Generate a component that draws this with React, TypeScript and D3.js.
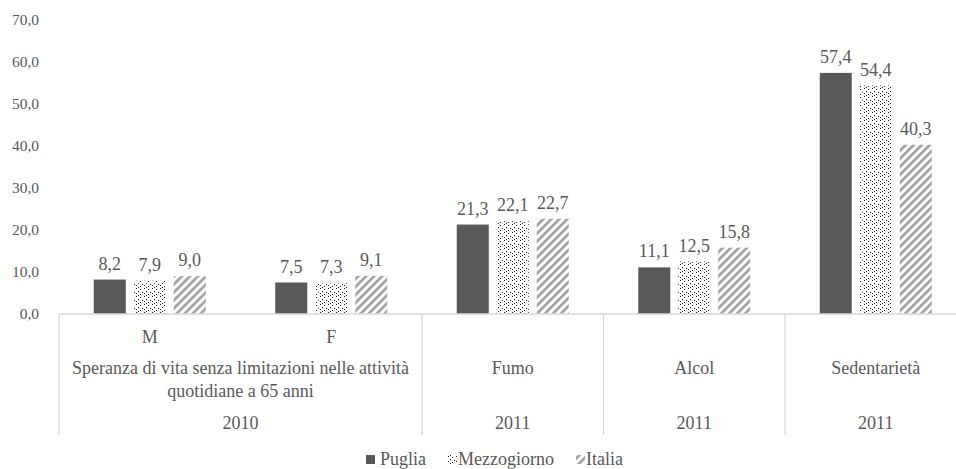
import React from "react";
import * as d3 from "d3";

const categories = ["M", "F", "Fumo", "Alcol", "Sedentarietà"];
const groupLabels = [
  { label: ["Speranza di vita senza limitazioni nelle attività", "quotidiane a 65 anni"], from: 0, to: 1 },
  { label: ["Fumo"], from: 2, to: 2 },
  { label: ["Alcol"], from: 3, to: 3 },
  { label: ["Sedentarietà"], from: 4, to: 4 },
];
const yearLabels = [
  { label: "2010", from: 0, to: 1 },
  { label: "2011", from: 2, to: 2 },
  { label: "2011", from: 3, to: 3 },
  { label: "2011", from: 4, to: 4 },
];
const seriesNames = ["Puglia", "Mezzogiorno", "Italia"];
const puglia = [8.2, 7.5, 21.3, 11.1, 57.4];
const mezzogiorno = [7.9, 7.3, 22.1, 12.5, 54.4];
const italia = [9.0, 9.1, 22.7, 15.8, 40.3];
const seriesValues = [puglia, mezzogiorno, italia];
const yTicks = [0, 10, 20, 30, 40, 50, 60, 70];

const W = 956;
const H = 469;
const FONT = "Liberation Serif, Times New Roman, Times, DejaVu Serif, serif";
const TEXT = "#595959";
const fills = ["#595959", "url(#dots)", "url(#stripes)"];

const fmt = (v: number) => v.toFixed(1).replace(".", ",");

export default function App() {
  const x0 = 59;
  const step = 181.5;
  const x = d3
    .scaleBand<number>()
    .domain(categories.map((_, i) => i))
    .range([x0, x0 + step * categories.length])
    .padding(0);
  const xs = d3
    .scaleBand<number>()
    .domain(seriesNames.map((_, i) => i))
    .range([0, x.bandwidth()])
    .paddingInner(0.2)
    .paddingOuter(0.869);
  const y = d3.scaleLinear().domain([0, 70]).range([314, 20]);
  const base = y(0);
  const divBottom = 435;

  const boundaries = [0, 2, 3, 4, 5];

  const legendItems = [
    { name: seriesNames[0], mx: 366, tx: 380 },
    { name: seriesNames[1], mx: 448, tx: 458 },
    { name: seriesNames[2], mx: 576, tx: 586 },
  ];

  return (
    <svg
      width={W}
      height={H}
      style={{ position: "absolute", left: 0, top: 0, background: "#fff", fontFamily: FONT }}
    >
      <defs>
        <pattern id="dots" patternUnits="userSpaceOnUse" width="8" height="8">
          <rect width="8" height="8" fill="#fff" />
          <rect x="0" y="0" width="1" height="1" fill="#222" />
          <rect x="4" y="1" width="1" height="1" fill="#222" />
          <rect x="2" y="3" width="1" height="1" fill="#222" />
          <rect x="6" y="4" width="1" height="1" fill="#222" />
          <rect x="0" y="5" width="1" height="1" fill="#222" />
          <rect x="4" y="6" width="1" height="1" fill="#222" />
          <rect x="2" y="7" width="1" height="1" fill="#222" />
        </pattern>
        <pattern
          id="stripes"
          patternUnits="userSpaceOnUse"
          width="5.66"
          height="10"
          patternTransform="rotate(45)"
        >
          <rect width="5.66" height="10" fill="#fff" />
          <rect x="0" y="0" width="2.9" height="10" fill="#a6a6a6" />
        </pattern>
      </defs>
      <rect width={W} height={H} fill="#fff" />

      {yTicks.map((t) => (
        <text
          key={t}
          x={39}
          y={y(t)}
          dy="0.35em"
          textAnchor="end"
          fontSize={15.5}
          fill={TEXT}
        >
          {fmt(t)}
        </text>
      ))}

      {seriesValues.map((vals, s) =>
        vals.map((v, i) => {
          const bx = (x(i) as number) + (xs(s) as number);
          return (
            <g key={`${s}-${i}`}>
              <rect
                x={bx}
                y={y(v)}
                width={xs.bandwidth()}
                height={base - y(v)}
                fill={fills[s]}
              />
              <text
                x={bx + xs.bandwidth() / 2}
                y={y(v) - 10}
                textAnchor="middle"
                fontSize={18}
                fill={TEXT}
              >
                {fmt(v)}
              </text>
            </g>
          );
        })
      )}

      <line x1={x0} x2={x0 + step * 5} y1={base} y2={base} stroke="#d9d9d9" strokeWidth={1.3} />
      {boundaries.map((b) => {
        const bx = x0 + step * b;
        return (
          <line key={b} x1={bx} x2={bx} y1={base} y2={divBottom} stroke="#d9d9d9" strokeWidth={1.3} />
        );
      })}

      {categories.slice(0, 2).map((c, i) => (
        <text
          key={c}
          x={(x(i) as number) + x.bandwidth() / 2}
          y={343}
          textAnchor="middle"
          fontSize={18}
          fill={TEXT}
        >
          {c}
        </text>
      ))}

      {groupLabels.map((g, gi) => {
        const cx = ((x(g.from) as number) + (x(g.to) as number) + x.bandwidth()) / 2;
        return (
          <text key={gi} textAnchor="middle" fontSize={18} fill={TEXT}>
            {g.label.map((l, li) => (
              <tspan key={li} x={cx} y={374 + li * 23}>
                {l}
              </tspan>
            ))}
          </text>
        );
      })}

      {yearLabels.map((g, gi) => {
        const cx = ((x(g.from) as number) + (x(g.to) as number) + x.bandwidth()) / 2;
        return (
          <text key={gi} x={cx} y={429} textAnchor="middle" fontSize={18} fill={TEXT}>
            {g.label}
          </text>
        );
      })}

      {legendItems.map((it, i) => (
        <g key={it.name}>
          <rect x={it.mx} y={455} width={9} height={9} fill={fills[i]} />
          <text x={it.tx} y={465} fontSize={18} fill={TEXT}>
            {it.name}
          </text>
        </g>
      ))}
    </svg>
  );
}
